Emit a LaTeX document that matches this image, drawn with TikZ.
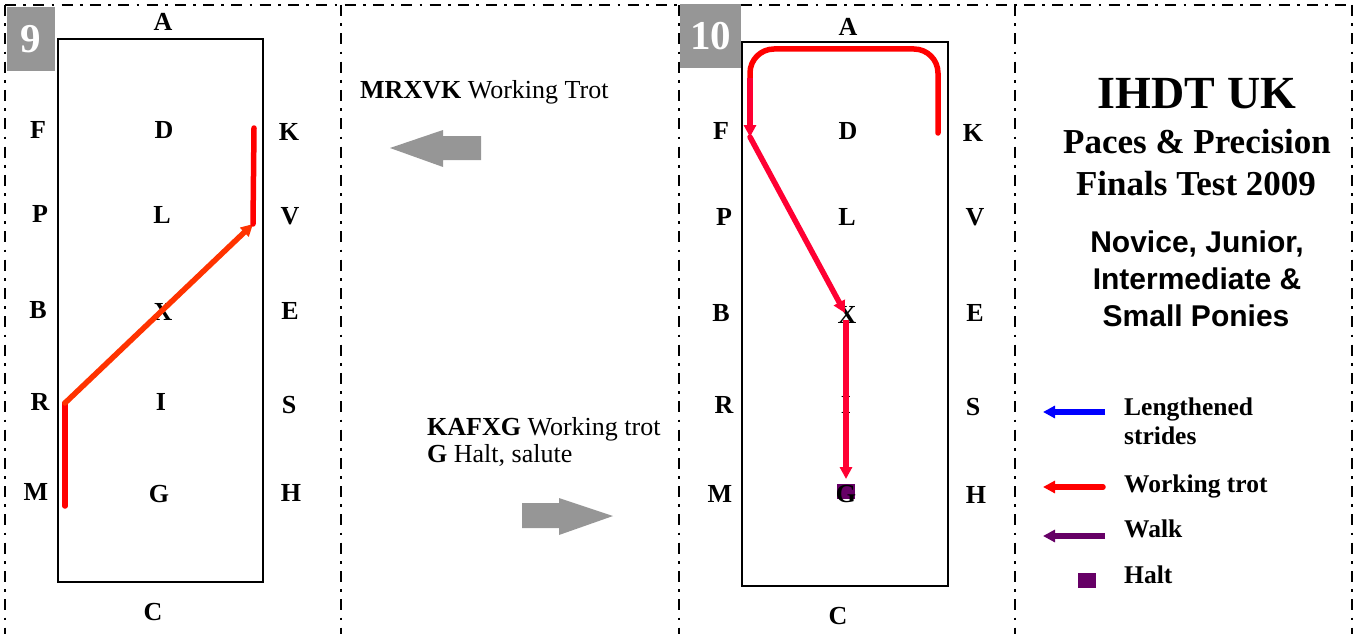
\documentclass[tikz,border=0pt]{standalone}
\usepackage{fontspec}
\setmainfont{Liberation Serif}
\setsansfont{Liberation Sans}
\usetikzlibrary{arrows.meta}
\definecolor{boxgray}{HTML}{969696}
\definecolor{trotred}{HTML}{FF0000}
\definecolor{diagorange}{HTML}{FF3300}
\definecolor{crimson}{HTML}{FF0033}
\definecolor{walkpurple}{HTML}{660066}
\definecolor{lenblue}{HTML}{0000FF}
\begin{document}
\begin{tikzpicture}[x=1pt,y=-1pt,
  lbl/.style={font=\fontsize{26}{30}\selectfont\bfseries, inner sep=0pt},
  border/.style={line width=2.8pt, dash pattern=on 11pt off 7.3pt on 2.7pt off 7.3pt},
  arena/.style={draw, line width=2.4pt},
  numbox/.style={fill=boxgray, text=white, font=\fontsize{41}{41}\selectfont\bfseries, inner sep=0pt, anchor=north west},
  midtext/.style={font=\fontsize{26}{30}\selectfont, inner sep=0pt, anchor=base west},
  legtext/.style={font=\fontsize{25.5}{30}\selectfont\bfseries, inner sep=0pt, anchor=base west},
  titleA/.style={font=\fontsize{46}{50}\selectfont\bfseries, inner sep=0pt, anchor=base},
  titleB/.style={font=\fontsize{35}{40}\selectfont\bfseries, inner sep=0pt, anchor=base},
  titleC/.style={font=\fontsize{30}{36}\selectfont\sffamily\bfseries, inner sep=0pt, anchor=base},
  trot/.style={line width=5.5pt, draw=trotred, line cap=round, line join=round},
  diag/.style={line width=5.5pt, draw=diagorange, line cap=round},
  crim/.style={line width=5.5pt, draw=crimson, line cap=round},
  tip/.style={-{Triangle[length=12pt,width=12pt]}},
  halt/.style={fill=walkpurple, inner sep=0pt, minimum width=18pt, minimum height=15pt},
  grayarrow/.style={fill=boxgray}
]
\useasboundingbox (0,0) rectangle (1355,634);
% dash-dot frame lines
\coordinate (t0) at (5,5);
\coordinate (t1) at (1352,5);
\draw[border] (t0) -- (t1);
\foreach \xx in {5,341,679,1015,1352}{
  \draw[border] (\xx,5) -- (\xx,640);
}
% number boxes
\node[numbox, minimum width=48pt, minimum height=64pt] (n9) at (7,7) {9};
\node[numbox, minimum width=61pt, minimum height=64pt] (n10) at (680,4) {10};
% arenas
\draw[arena] (58,39) rectangle (263,582);
\draw[arena] (742,42) rectangle (948,586);
% halt square in panel 10
\node[halt] (halt10) at (846,491.5) {};
% labels panel 9
\node[lbl] (a9) at (163,22) {A};
\node[lbl] (c9) at (153,612) {C};
\node[lbl] (f9) at (38,130) {F};
\node[lbl] (p9) at (40,214) {P};
\node[lbl] (b9) at (38,310) {B};
\node[lbl] (r9) at (40,402) {R};
\node[lbl] (m9) at (36,492) {M};
\node[lbl] (d9) at (164,130) {D};
\node[lbl] (l9) at (162,215) {L};
\node[lbl] (x9) at (163,312) {X};
\node[lbl] (i9) at (161,402) {I};
\node[lbl] (g9) at (159,494) {G};
\node[lbl] (k9) at (289,132) {K};
\node[lbl] (v9) at (290,216) {V};
\node[lbl] (e9) at (290,311) {E};
\node[lbl] (s9) at (289,405) {S};
\node[lbl] (h9) at (291,493) {H};
% labels panel 10
\node[lbl] (a10) at (848,27) {A};
\node[lbl] (c10) at (838,616) {C};
\node[lbl] (f10) at (721,131) {F};
\node[lbl] (p10) at (724,217) {P};
\node[lbl] (b10) at (721,313) {B};
\node[lbl] (r10) at (724,405) {R};
\node[lbl] (m10) at (720,494) {M};
\node[lbl] (d10) at (848,131) {D};
\node[lbl] (l10) at (847,217) {L};
\node[lbl] (x10) at (847,315) {X};
\node[lbl] (i10) at (846,405) {I};
\node[lbl] (g10) at (846,494) {G};
\node[lbl] (k10) at (973,133) {K};
\node[lbl] (v10) at (975,217) {V};
\node[lbl] (e10) at (975,313) {E};
\node[lbl] (s10) at (973,407) {S};
\node[lbl] (h10) at (976,495) {H};
% path panel 9
\coordinate (q9m) at (65,506);
\coordinate (q9r) at (65,403);
\coordinate (q9v) at (253,224);
\coordinate (q9k) at (254,128);
\draw[trot] (q9m) -- (q9r);
\draw[diag, tip] (q9r) -- (q9v);
\draw[trot] (q9v) -- (q9k);
% path panel 10
\coordinate (q10k) at (938,133);
\coordinate (q10kc) at (938,49);
\coordinate (q10fc) at (750,49);
\coordinate (q10fa) at (750,78);
\coordinate (q10f) at (750,137);
\coordinate (q10x) at (845,313);
\coordinate (q10xs) at (846,320);
\coordinate (q10g) at (846,479);
\draw[trot, rounded corners=24pt] (q10k) -- (q10kc) -- (q10fc) -- (q10fa);
\draw[crim, line cap=butt, tip] (q10fa) -- (q10f);
\draw[crim, tip] (q10f) -- (q10x);
\draw[crim, line cap=butt, tip] (q10xs) -- (q10g);
% middle panel texts and arrows
\node[midtext] (t1txt) at (360,99) {\textbf{MRXVK} Working Trot};
\node[midtext] (t2txt) at (427,435) {\textbf{KAFXG} Working trot};
\node[midtext] (t3txt) at (427,462) {\textbf{G} Halt, salute};
\fill[grayarrow] (481,136) -- (443,136) -- (443,130) -- (390,148) -- (443,167) -- (443,160) -- (481,160) -- cycle;
\fill[grayarrow] (522,503) -- (559,503) -- (559,498) -- (613,516) -- (559,535) -- (559,528) -- (522,528) -- cycle;
% title
\node[titleA] (ti1) at (1197,108) {IHDT UK};
\node[titleB] (ti2) at (1197,153) {Paces \& Precision};
\node[titleB] (ti3) at (1196,195) {Finals Test 2009};
\node[titleC] (ti4) at (1197,252) {Novice, Junior,};
\node[titleC] (ti5) at (1197,289) {Intermediate \&};
\node[titleC] (ti6) at (1196,326) {Small Ponies};
% legend
\coordinate (lb1) at (1105,412);
\coordinate (lb2) at (1043,412);
\coordinate (lr1) at (1103,487);
\coordinate (lr2) at (1043,487);
\coordinate (lp1) at (1105,536);
\coordinate (lp2) at (1043,536);
\draw[line width=6pt, draw=lenblue, -{Triangle[length=12pt,width=12pt]}] (lb1) -- (lb2);
\draw[line width=5.5pt, draw=trotred, line cap=round, -{Triangle[length=12pt,width=12pt]}] (lr1) -- (lr2);
\draw[line width=5.5pt, draw=walkpurple, -{Triangle[length=12pt,width=12pt]}] (lp1) -- (lp2);
\node[halt] (haltleg) at (1087,580.5) {};
\node[legtext] (lg1) at (1124,415) {Lengthened};
\node[legtext] (lg2) at (1124,444) {strides};
\node[legtext] (lg3) at (1124,492) {Working trot};
\node[legtext] (lg4) at (1124,537) {Walk};
\node[legtext] (lg5) at (1124,583) {Halt};
\end{tikzpicture}
\end{document}
